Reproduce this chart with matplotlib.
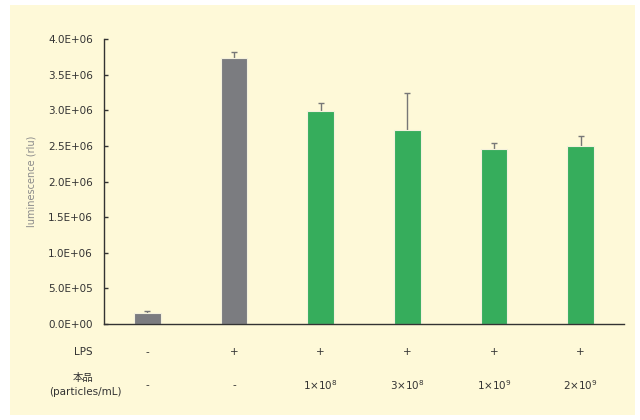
import matplotlib.pyplot as plt
from matplotlib.patches import Rectangle
from matplotlib.ticker import FuncFormatter

plt.rcParams["font.family"] = ["DejaVu Sans", "Noto Sans CJK JP"]

# data
lps = ["-", "+", "+", "+", "+", "+"]
dose = ["-", "-", "1×10$^{8}$", "3×10$^{8}$", "1×10$^{9}$", "2×10$^{9}$"]
means = [1.6e5, 3.74e6, 2.99e6, 2.72e6, 2.45e6, 2.50e6]
errs = [0.2e5, 0.08e6, 0.115e6, 0.52e6, 0.09e6, 0.14e6]
colors = ["#7b7c80", "#7b7c80", "#36ad5c", "#36ad5c", "#36ad5c", "#36ad5c"]

bg = "#fef9d8"
txt = "#333333"

fig = plt.figure(figsize=(6.4, 4.2), dpi=100)
fig.patches.append(Rectangle((10 / 640, 5 / 420), 625 / 640, 410 / 420,
                             transform=fig.transFigure, facecolor=bg,
                             edgecolor="none", zorder=-10))

ax = fig.add_axes([104 / 640, 1 - 324 / 420, 520 / 640, 285 / 420])
ax.set_zorder(1)
ax.set_facecolor("none")

x = list(range(len(means)))
ax.bar(x, means, width=0.31, color=colors, edgecolor="#f4f1dc", linewidth=0.8,
       zorder=2)
# upper error only, no cap at bar top
eb = ax.errorbar(x, means, yerr=[[0] * len(errs), errs], fmt="none",
                 ecolor="#777777", elinewidth=1, capsize=2, capthick=1,
                 zorder=1)
eb[1][0].set_visible(False)

ax.set_xlim(-0.5, len(means) - 0.5)
ax.set_ylim(0, 4.0e6)
ax.set_yticks([i * 5e5 for i in range(9)])
ax.yaxis.set_major_formatter(FuncFormatter(lambda v, p: f"{v:.1E}"))
ax.tick_params(axis="y", direction="in", length=3, width=1, colors="#333333",
               labelsize=7.5, labelcolor=txt, pad=8)
ax.set_xticks([])

for s in ["top", "right"]:
    ax.spines[s].set_visible(False)
for s in ["left", "bottom"]:
    ax.spines[s].set_color("#333333")
    ax.spines[s].set_linewidth(1)
    ax.spines[s].set_zorder(3)

ax.set_ylabel("luminescence (rlu)", fontsize=7, color="#8a8a8a")
ax.yaxis.set_label_coords(-0.13, 0.5)

tr = ax.get_xaxis_transform()
for i in x:
    ax.text(i, -0.098, lps[i], transform=tr, ha="center", va="center",
            fontsize=7.5, color=txt)
    ax.text(i, -0.215, dose[i], transform=tr, ha="center", va="center",
            fontsize=7.5, color=txt)

fig.text(83 / 640, 1 - 352 / 420, "LPS", ha="center", va="center",
         fontsize=7.5, color=txt)
fig.text(83 / 640, 1 - 378 / 420, "本品", ha="center", va="center",
         fontsize=7.5, color=txt)
fig.text(85 / 640, 1 - 392 / 420, "(particles/mL)", ha="center", va="center",
         fontsize=7.5, color=txt)

fig.savefig("out.png", dpi=100, facecolor="white")
